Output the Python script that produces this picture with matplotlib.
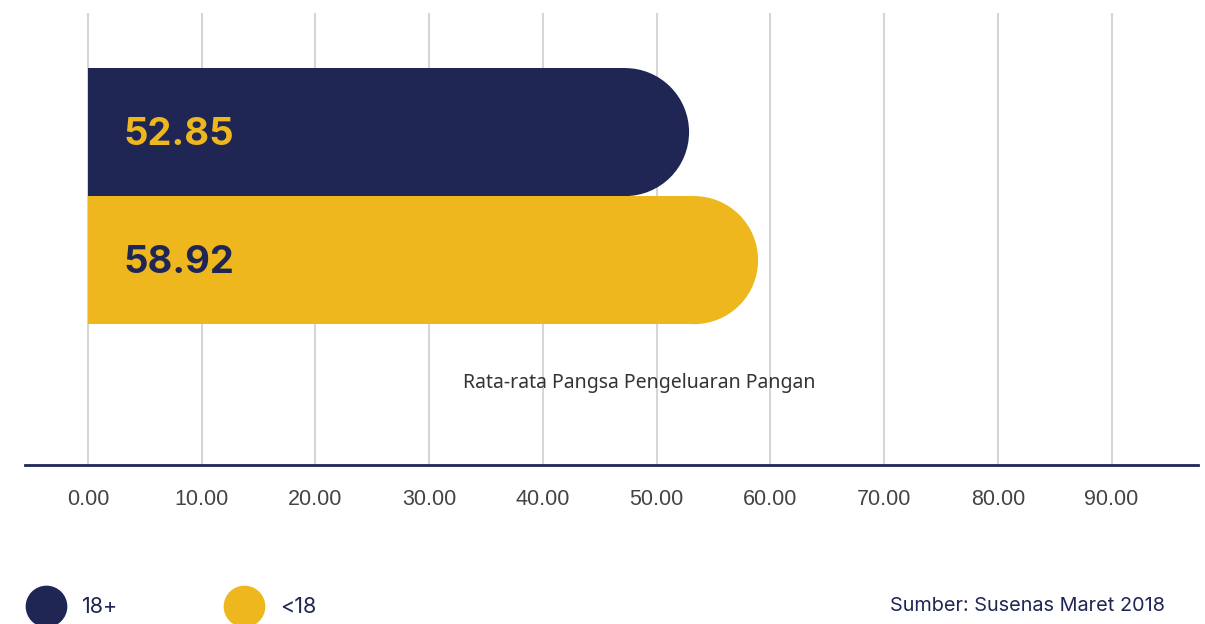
import matplotlib
matplotlib.use("Agg")
import matplotlib.pyplot as plt
from matplotlib.patches import Ellipse
from matplotlib.lines import Line2D

# data
groups = ["18+", "<18"]
values = [52.85, 58.92]
ticks = [0, 10, 20, 30, 40, 50, 60, 70, 80, 90]
xlabel = "Rata-rata Pangsa Pengeluaran Pangan"
source = "Sumber: Susenas Maret 2018"

NAVY = "#1F2654"
YELLOW = "#EEB71E"
bar_colors = [NAVY, YELLOW]
text_colors = [YELLOW, NAVY]

W, H = 1205, 624
fig = plt.figure(figsize=(W / 100, H / 100), dpi=100)
ax = fig.add_axes([25 / W, 1 - 465 / H, (1198 - 25) / W, (465 - 13) / H])

xmin, xmax = -5.54, 97.6
ax.set_xlim(xmin, xmax)
ax.set_ylim(2.60, -0.93)

# rounded bars: flat part + half ellipse at the end
px_per_unit = (1198 - 25) / (xmax - xmin)
bar_h = 1.0
r_px = 64
r_data = r_px / px_per_unit
for i, (v, c, tc) in enumerate(zip(values, bar_colors, text_colors)):
    ax.barh(i, v - r_data, height=bar_h, left=0, color=c, zorder=3, linewidth=0)
    ax.add_patch(Ellipse((v - r_data, i), 2 * r_data, bar_h, color=c, zorder=3, lw=0))
    ax.text(3.1, i + 0.02, "%.2f" % v, color=tc, fontsize=27.5, fontweight="bold",
            family="Inter", va="center", ha="left", zorder=4)

ax.set_xticks(ticks)
ax.set_xticklabels(["%.2f" % t for t in ticks], fontsize=15.5, color="#444444",
                   family="Liberation Sans")
ax.tick_params(axis="x", length=0, pad=17)
ax.set_yticks([])
ax.grid(axis="x", color="#d6d6d6", linewidth=1.5, zorder=0)
for s in ["top", "right", "left"]:
    ax.spines[s].set_visible(False)
ax.spines["bottom"].set_color(NAVY)
ax.spines["bottom"].set_linewidth(2)
ax.spines["bottom"].set_zorder(5)

ax.text(639 / W, 1 - 383 / H, xlabel, transform=fig.transFigure, ha="center", va="center",
        fontsize=14, color="#333333", family="Noto Sans")

# legend
leg_x = [46, 244]
for g, c, x in zip(groups, bar_colors, leg_x):
    fig.add_artist(Line2D([x / W], [1 - 606 / H], marker="o", markersize=29,
                          color=c, linestyle="none", transform=fig.transFigure))
    fig.text((x + 36) / W, 1 - 607 / H, g, ha="left", va="center", fontsize=15.5,
             color=NAVY, family="Inter")

fig.text(1165 / W, 1 - 606 / H, source, ha="right", va="center", fontsize=14.3,
         color=NAVY, family="Inter")

fig.savefig("out.png", dpi=100, facecolor="white")
